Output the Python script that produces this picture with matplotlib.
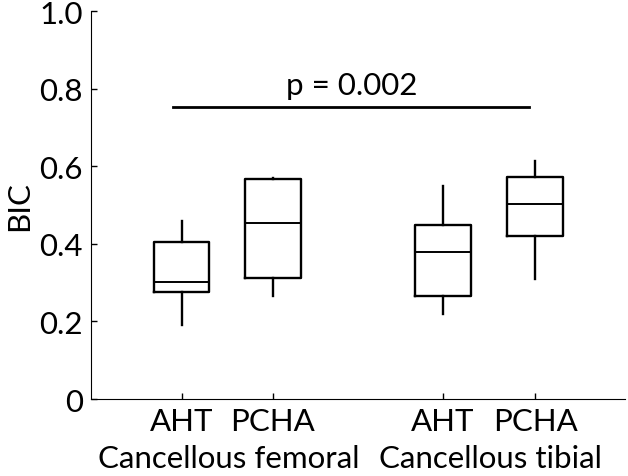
import matplotlib
matplotlib.use('Agg')
import matplotlib.pyplot as plt
from matplotlib.transforms import blended_transform_factory

plt.rcParams['font.family'] = ['Lato', 'DejaVu Sans']

# box statistics
groups = ['AHT', 'PCHA', 'AHT', 'PCHA']
regions = ['Cancellous femoral', 'Cancellous tibial']
whislo = [0.192, 0.265, 0.218, 0.309]
q1 = [0.277, 0.311, 0.266, 0.421]
med = [0.302, 0.453, 0.378, 0.503]
q3 = [0.404, 0.568, 0.448, 0.573]
whishi = [0.458, 0.570, 0.548, 0.614]
p_text = 'p = 0.002'
p_level = 0.753

pos = [1, 2, 3.86, 4.865]
fs = 22.5

fig = plt.figure(figsize=(6.28, 4.77), dpi=100)
ax = fig.add_axes([0.145, 0.1614, 0.85, 0.8134])

stats = []
for i in range(4):
    stats.append(dict(whislo=whislo[i], q1=q1[i], med=med[i], q3=q3[i], whishi=whishi[i], fliers=[]))

lp = dict(color='black', linewidth=1.7)
ax.bxp(stats, positions=pos, widths=0.61, showcaps=False, showfliers=False,
       boxprops=lp, whiskerprops=lp, medianprops=dict(color='black', linewidth=1.4))

ax.set_xlim(0.011, 5.847)
ax.set_ylim(0, 1.0)
ax.set_yticks([0, 0.2, 0.4, 0.6, 0.8, 1.0])
ax.set_yticklabels(['0', '0.2', '0.4', '0.6', '0.8', '1.0'])
ax.set_xticks(pos)
ax.set_xticklabels(groups)
ax.tick_params(direction='in', labelsize=fs, length=4, width=1, pad=6)
ax.tick_params(axis='y', pad=6)
ax.spines['top'].set_visible(False)
ax.spines['right'].set_visible(False)
ax.set_ylabel('BIC', fontsize=fs, labelpad=4)

tr = blended_transform_factory(ax.transData, ax.transAxes)
ax.text(1.52, -0.115, regions[0], transform=tr, ha='center', va='top', fontsize=fs)
ax.text(4.38, -0.115, regions[1], transform=tr, ha='center', va='top', fontsize=fs)

# significance bar
ax.plot([0.91, 4.8], [p_level, p_level], color='black', linewidth=2)
ax.text(2.86, p_level + 0.02, p_text, ha='center', va='bottom', fontsize=fs)

fig.savefig('out.png', dpi=100)
